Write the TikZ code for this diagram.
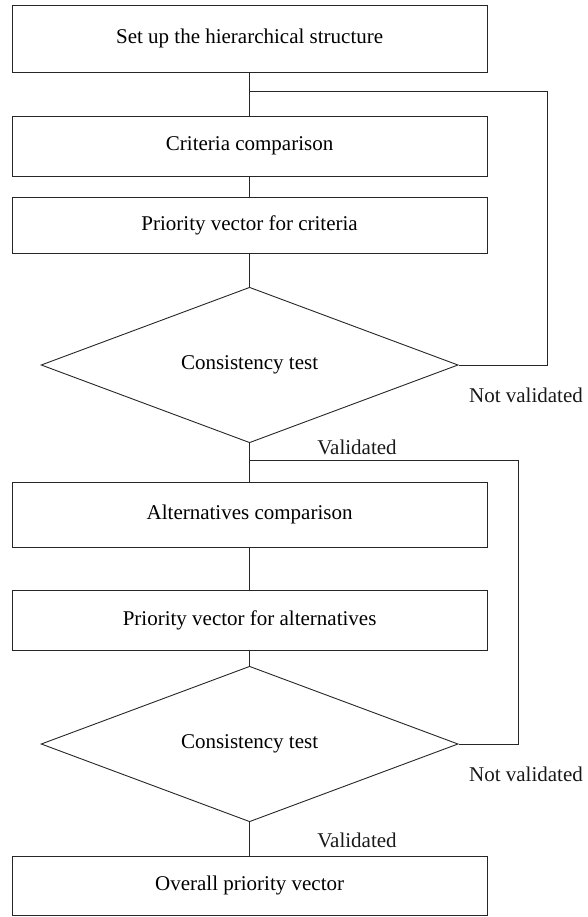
\documentclass[tikz,border=0pt]{standalone}
\usepackage{fontspec}
\setmainfont{Liberation Serif}
\usetikzlibrary{shapes.geometric}
\begin{document}
\begin{tikzpicture}[x=1pt,y=-1pt,
  line width=0.9pt, draw=black!85,
  box/.style={draw=black!85, rectangle, minimum width=475pt, inner sep=0pt, font=\fontsize{21}{24}\selectfont},
  dec/.style={draw=black!85, diamond, minimum width=417pt, minimum height=152pt, inner sep=0pt, font=\fontsize{21}{24}\selectfont},
  lbl/.style={font=\fontsize{21}{24}\selectfont, inner sep=0pt, text=black!90}]
\useasboundingbox (0,0) rectangle (587,917);
\node[box, minimum height=67pt] (b1) at (249.6,38.5) {Set up the hierarchical structure};
\node[box, minimum height=60pt] (b2) at (249.6,146) {Criteria comparison};
\node[box, minimum height=56pt] (b3) at (249.6,225) {Priority vector for criteria};
\node[dec] (d1) at (249.6,365) {Consistency test};
\node[box, minimum height=65pt] (b4) at (249.6,514.5) {Alternatives comparison};
\node[box, minimum height=60pt] (b5) at (249.6,620) {Priority vector for alternatives};
\node[dec] (d2) at (249.6,744) {Consistency test};
\node[box, minimum height=59pt] (b6) at (249.6,885.5) {Overall priority vector};
\coordinate (j1) at (249.6,91);
\coordinate (r1) at (547,91);
\coordinate (j2) at (249.6,460);
\coordinate (r2) at (518,460);
\draw (b1.south) -- (b2.north);
\draw (b2.south) -- (b3.north);
\draw (b3.south) -- (d1.north);
\draw (d1.south) -- (b4.north);
\draw (b4.south) -- (b5.north);
\draw (b5.south) -- (d2.north);
\draw (d2.south) -- (b6.north);
\draw (d1.east) -| (r1) -- (j1);
\draw (d2.east) -| (r2) -- (j2);
\node[lbl] (nv1) at (526,395) {Not validated};
\node[lbl] (v1) at (357,447) {Validated};
\node[lbl] (nv2) at (526,774) {Not validated};
\node[lbl] (v2) at (357,840) {Validated};
\end{tikzpicture}
\end{document}
